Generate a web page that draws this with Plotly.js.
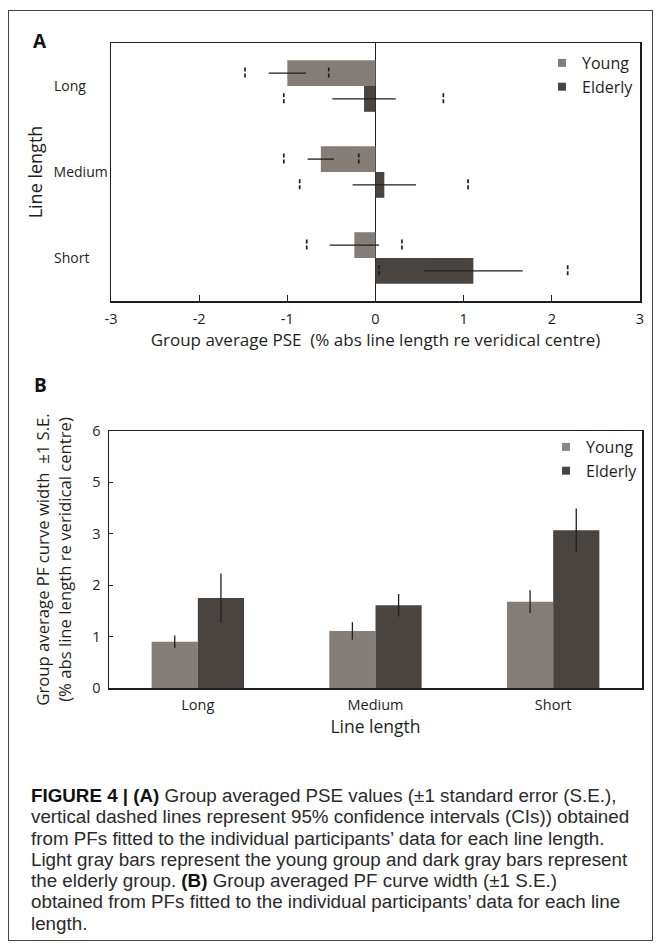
<!DOCTYPE html>
<html>
<head>
<meta charset="utf-8">
<script src="https://cdn.plot.ly/plotly-3.0.1.min.js"></script>
<style>
html, body { margin: 0; padding: 0; background: #fff; }
#wrap { position: relative; width: 661px; height: 949px; overflow: hidden; background: #fff; }
#chart { position: absolute; left: 0; top: 0; width: 661px; height: 949px; }
#frame { position: absolute; left: 8px; top: 10px; width: 645px; height: 931px; border: 1px solid #444; box-sizing: border-box; pointer-events: none; }
#caption { position: absolute; left: 31px; top: 785px; font-family: 'Liberation Sans', Arial, sans-serif; font-size: 18.8px; line-height: 21.3px; color: #2a2a2a; white-space: nowrap; }
#caption b { color: #111; }
</style>
</head>
<body>
<div id="wrap">
  <div id="chart"></div>
  <div id="frame"></div>
  <div id="caption">
    <b>FIGURE 4 | (A)</b> Group averaged PSE values (±1 standard error (S.E.),<br>
    vertical dashed lines represent 95% confidence intervals (CIs)) obtained<br>
    from PFs fitted to the individual participants’ data for each line length.<br>
    Light gray bars represent the young group and dark gray bars represent<br>
    the elderly group. <b>(B)</b> Group averaged PF curve width (±1 S.E.)<br>
    obtained from PFs fitted to the individual participants’ data for each line<br>
    length.
  </div>
</div>
<script>
// ---- data ----
const categories = ['Long', 'Medium', 'Short'];
const groups = ['Young', 'Elderly'];

// Panel A: group average PSE
const pseYoung = [-1.00, -0.62, -0.24];
const pseYoungSE = [0.21, 0.15, 0.28];
const pseElderly = [-0.13, 0.10, 1.11];
const pseElderlySE = [0.36, 0.36, 0.56];
const ciYoungLow = [-1.48, -1.04, -0.78];
const ciYoungHigh = [-0.53, -0.19, 0.30];
const ciElderlyLow = [-1.04, -0.86, 0.04];
const ciElderlyHigh = [0.77, 1.05, 2.18];
const pseTickVals = [-3, -2, -1, 0, 1, 2, 3];
const pseTickLabels = ['-3', '-2', '-1', '0', '1', '2', '3'];

// Panel B: group average PF curve width
const widthYoung = [0.90, 1.11, 1.68];
const widthYoungSE = [0.12, 0.17, 0.22];
const widthElderly = [1.75, 1.61, 3.07];
const widthElderlySE = [0.48, 0.22, 0.42];
const widthTickVals = [0, 1, 2, 3, 4, 5];
const widthTickLabels = ['0', '1', '2', '3', '5', '6'];

// ---- styling ----
const FONT = "'Open Sans', 'Noto Sans', sans-serif";
const YOUNG = '#857e78';
const ELDERLY = '#4a4440';
const INK = '#1e1e1e';
const H = 949, W = 661;

const idx = categories.map((_, i) => i);

// left-align the category labels of panel A by padding with no-break spaces
function padLabels(labels, font) {
  const c = document.createElement('canvas').getContext('2d');
  c.font = font;
  const widths = labels.map(t => c.measureText(t).width);
  const maxW = Math.max(...widths);
  const sp = c.measureText('\u00a0').width || 4;
  return labels.map((t, i) => t + '\u00a0'.repeat(Math.round((maxW - widths[i]) / sp)));
}
const catLabelsA = padLabels(categories, "14px 'Open Sans'");

function ciSegments(lo, hi, pos, half) {
  const xs = [], ys = [];
  pos.forEach((p, i) => {
    xs.push(lo[i], lo[i], null, hi[i], hi[i], null);
    ys.push(p - half, p + half, null, p - half, p + half, null);
  });
  return { xs, ys };
}

const yYoungA = idx.map(i => i - 0.15);
const yElderlyA = idx.map(i => i + 0.15);
const ciY = ciSegments(ciYoungLow, ciYoungHigh, yYoungA, 0.065);
const ciE = ciSegments(ciElderlyLow, ciElderlyHigh, yElderlyA, 0.065);

const errStyle = { type: 'data', visible: true, color: INK, thickness: 1.3, width: 0 };
const ciLine = { color: INK, width: 1.7, dash: '4px,2px' };

const traces = [
  // Panel A bars
  { type: 'bar', orientation: 'h', x: pseYoung, y: yYoungA, width: 0.3,
    marker: { color: YOUNG, line: { width: 0 } }, name: groups[0], showlegend: false,
    error_x: Object.assign({ array: pseYoungSE }, errStyle), xaxis: 'x', yaxis: 'y', hoverinfo: 'x' },
  { type: 'bar', orientation: 'h', x: pseElderly, y: yElderlyA, width: 0.3,
    marker: { color: ELDERLY, line: { width: 0 } }, name: groups[1], showlegend: false,
    error_x: Object.assign({ array: pseElderlySE }, errStyle), xaxis: 'x', yaxis: 'y', hoverinfo: 'x' },
  // Panel A 95% CI dashed markers
  { type: 'scatter', mode: 'lines', x: ciY.xs, y: ciY.ys, xaxis: 'x', yaxis: 'y',
    line: ciLine, showlegend: false, hoverinfo: 'skip' },
  { type: 'scatter', mode: 'lines', x: ciE.xs, y: ciE.ys, xaxis: 'x', yaxis: 'y',
    line: ciLine, showlegend: false, hoverinfo: 'skip' },
  // Panel A legend entries
  { type: 'scatter', mode: 'markers', x: [null], y: [null], xaxis: 'x', yaxis: 'y', name: groups[0],
    marker: { symbol: 'square', size: 8, color: YOUNG }, legend: 'legend' },
  { type: 'scatter', mode: 'markers', x: [null], y: [null], xaxis: 'x', yaxis: 'y', name: groups[1],
    marker: { symbol: 'square', size: 8, color: ELDERLY }, legend: 'legend' },

  // Panel B bars
  { type: 'bar', x: idx.map(i => i - 0.13), y: widthYoung, width: 0.26,
    marker: { color: YOUNG, line: { width: 0 } }, name: groups[0], showlegend: false,
    error_y: Object.assign({ array: widthYoungSE }, errStyle), xaxis: 'x2', yaxis: 'y2', hoverinfo: 'y' },
  { type: 'bar', x: idx.map(i => i + 0.13), y: widthElderly, width: 0.26,
    marker: { color: ELDERLY, line: { width: 0 } }, name: groups[1], showlegend: false,
    error_y: Object.assign({ array: widthElderlySE }, errStyle), xaxis: 'x2', yaxis: 'y2', hoverinfo: 'y' },
  // Panel B legend entries
  { type: 'scatter', mode: 'markers', x: [null], y: [null], xaxis: 'x2', yaxis: 'y2', name: groups[0],
    marker: { symbol: 'square', size: 8, color: '#8c8782' }, legend: 'legend2' },
  { type: 'scatter', mode: 'markers', x: [null], y: [null], xaxis: 'x2', yaxis: 'y2', name: groups[1],
    marker: { symbol: 'square', size: 8, color: ELDERLY }, legend: 'legend2' }
];

const frameAxis = { showline: true, mirror: true, linecolor: INK, linewidth: 1.5, showgrid: false };

const layout = {
  width: W, height: H,
  margin: { l: 0, r: 0, t: 0, b: 0 },
  paper_bgcolor: 'rgba(0,0,0,0)', plot_bgcolor: '#fff',
  font: { family: FONT, size: 14, color: INK },
  barmode: 'overlay',
  showlegend: true,
  xaxis: Object.assign({}, frameAxis, {
    domain: [111 / W, 640 / W], anchor: 'y', range: [-3, 3],
    tickmode: 'array', tickvals: pseTickVals, ticktext: pseTickLabels,
    ticks: 'inside', ticklen: 6, tickwidth: 1, tickcolor: INK,
    zeroline: true, zerolinecolor: INK, zerolinewidth: 1.5,
    tickfont: { size: 14.5 }, ticklabelstandoff: 4,
    title: { text: 'Group average PSE  (% abs line length re veridical centre)', font: { size: 17 }, standoff: 4 }
  }),
  yaxis: Object.assign({}, frameAxis, {
    domain: [1 - 301 / H, 1 - 43 / H], anchor: 'x', range: [2.5, -0.5],
    tickmode: 'array', tickvals: idx, ticktext: catLabelsA,
    ticks: '', zeroline: false, ticklabelstandoff: -1,
    tickfont: { size: 14 },
    title: { text: 'Line length', font: { size: 18 }, standoff: 6 }
  }),
  xaxis2: Object.assign({}, frameAxis, {
    domain: [109 / W, 642 / W], anchor: 'y2', range: [-0.5, 2.5],
    tickmode: 'array', tickvals: idx, ticktext: categories,
    ticks: '', zeroline: false, ticklabelstandoff: 3,
    tickfont: { size: 14.5 },
    title: { text: 'Line length', font: { size: 17.5 }, standoff: 3 }
  }),
  yaxis2: Object.assign({}, frameAxis, {
    domain: [1 - 688 / H, 1 - 431 / H], anchor: 'x2', range: [0, 5],
    tickmode: 'array', tickvals: widthTickVals, ticktext: widthTickLabels,
    ticks: 'inside', ticklen: 4, tickwidth: 1, tickcolor: INK,
    zeroline: false, ticklabelstandoff: 4,
    tickfont: { size: 14.5 },
    title: { text: 'Group average PF curve width  ±1 S.E.<br>(% abs line length re veridical centre)', font: { size: 16.7 }, standoff: 16 }
  }),
  legend: {
    x: 542 / W, xanchor: 'left', y: 1 - 46 / H, yanchor: 'top',
    bgcolor: 'rgba(0,0,0,0)', borderwidth: 0, font: { size: 16, color: INK },
    itemwidth: 30, tracegroupgap: 0
  },
  legend2: {
    x: 546 / W, xanchor: 'left', y: 1 - 430 / H, yanchor: 'top',
    bgcolor: 'rgba(0,0,0,0)', borderwidth: 0, font: { size: 16, color: INK },
    itemwidth: 30, tracegroupgap: 0
  },
  annotations: [
    { text: '<b>A</b>', xref: 'paper', yref: 'paper', x: 40 / W, y: 1 - 41 / H,
      xanchor: 'center', yanchor: 'middle', showarrow: false, font: { size: 19, color: '#111' } },
    { text: '<b>B</b>', xref: 'paper', yref: 'paper', x: 40 / W, y: 1 - 385 / H,
      xanchor: 'center', yanchor: 'middle', showarrow: false, font: { size: 19, color: '#111' } }
  ]
};

Plotly.newPlot('chart', traces, layout, { staticPlot: true, displayModeBar: false });
</script>
</body>
</html>
